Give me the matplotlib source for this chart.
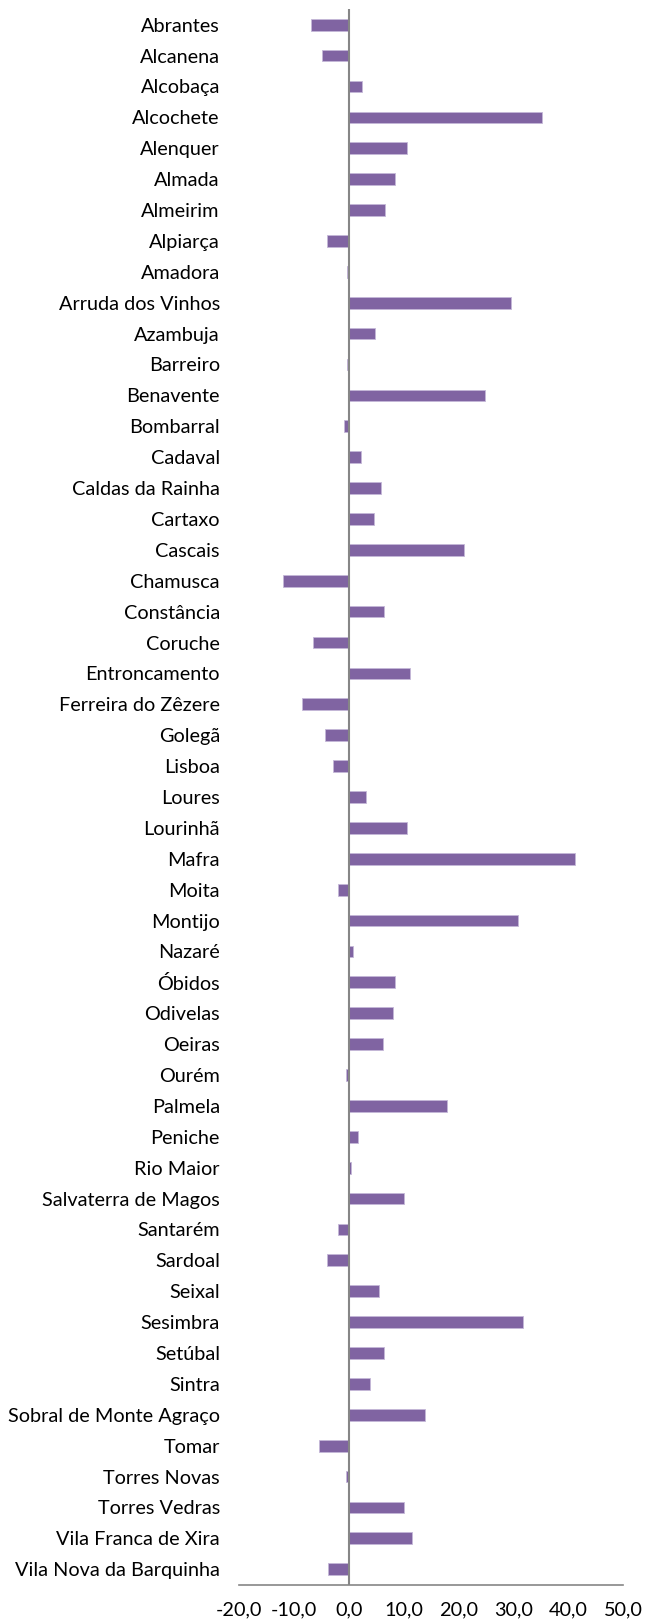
import matplotlib
matplotlib.use('Agg')
import matplotlib.pyplot as plt

plt.rcParams['font.family'] = ['Lato', 'DejaVu Sans']

# municipios e variacao (%)
concelhos = ['Abrantes', 'Alcanena', 'Alcobaça', 'Alcochete', 'Alenquer', 'Almada',
             'Almeirim', 'Alpiarça', 'Amadora', 'Arruda dos Vinhos', 'Azambuja',
             'Barreiro', 'Benavente', 'Bombarral', 'Cadaval', 'Caldas da Rainha',
             'Cartaxo', 'Cascais', 'Chamusca', 'Constância', 'Coruche',
             'Entroncamento', 'Ferreira do Zêzere', 'Golegã', 'Lisboa', 'Loures',
             'Lourinhã', 'Mafra', 'Moita', 'Montijo', 'Nazaré', 'Óbidos', 'Odivelas',
             'Oeiras', 'Ourém', 'Palmela', 'Peniche', 'Rio Maior',
             'Salvaterra de Magos', 'Santarém', 'Sardoal', 'Seixal', 'Sesimbra',
             'Setúbal', 'Sintra', 'Sobral de Monte Agraço', 'Tomar', 'Torres Novas',
             'Torres Vedras', 'Vila Franca de Xira', 'Vila Nova da Barquinha']
variacao = [-6.9, -5.0, 2.4, 35.1, 10.5, 8.3, 6.5, -4.0, -0.4, 29.5, 4.7,
            -0.3, 24.8, -1.0, 2.1, 5.9, 4.6, 21.0, -12.0, 6.3, -6.5,
            11.2, -8.5, -4.3, -3.0, 3.0, 10.6, 41.1, -2.1, 30.8, 0.7, 8.3, 8.0,
            6.2, -0.6, 17.8, 1.6, 0.4, 10.0, -2.1, -4.0, 5.4, 31.8,
            6.4, 3.9, 13.9, -5.4, -0.5, 10.0, 11.4, -3.8]

xticks = [-20, -10, 0, 10, 20, 30, 40, 50]
xtick_labels = ['-20,0', '-10,0', '0,0', '10,0', '20,0', '30,0', '40,0', '50,0']

fig = plt.figure(figsize=(6.46, 16.23), dpi=100)
ax = fig.add_axes([0.3705, 0.0236, 0.5944, 0.9707])

pos = list(range(len(concelhos)))
ax.barh(pos, variacao, height=0.38, color='#8064A2', edgecolor='#c4b7d8', linewidth=0.6)
ax.axvline(0, color='#868686', linewidth=1.5)

ax.set_ylim(len(concelhos) - 0.5, -0.5)
ax.set_xlim(-20, 50)
ax.set_yticks(pos)
ax.set_yticklabels(concelhos, fontsize=14.3)
ax.set_xticks(xticks)
ax.set_xticklabels(xtick_labels, fontsize=14.3)

for s in ['left', 'right', 'top']:
    ax.spines[s].set_visible(False)
ax.spines['bottom'].set_color('#868686')
ax.spines['bottom'].set_linewidth(1.2)
ax.tick_params(axis='y', length=0, pad=14)
ax.tick_params(axis='x', length=0, pad=12)

plt.savefig('out.png', dpi=100)
